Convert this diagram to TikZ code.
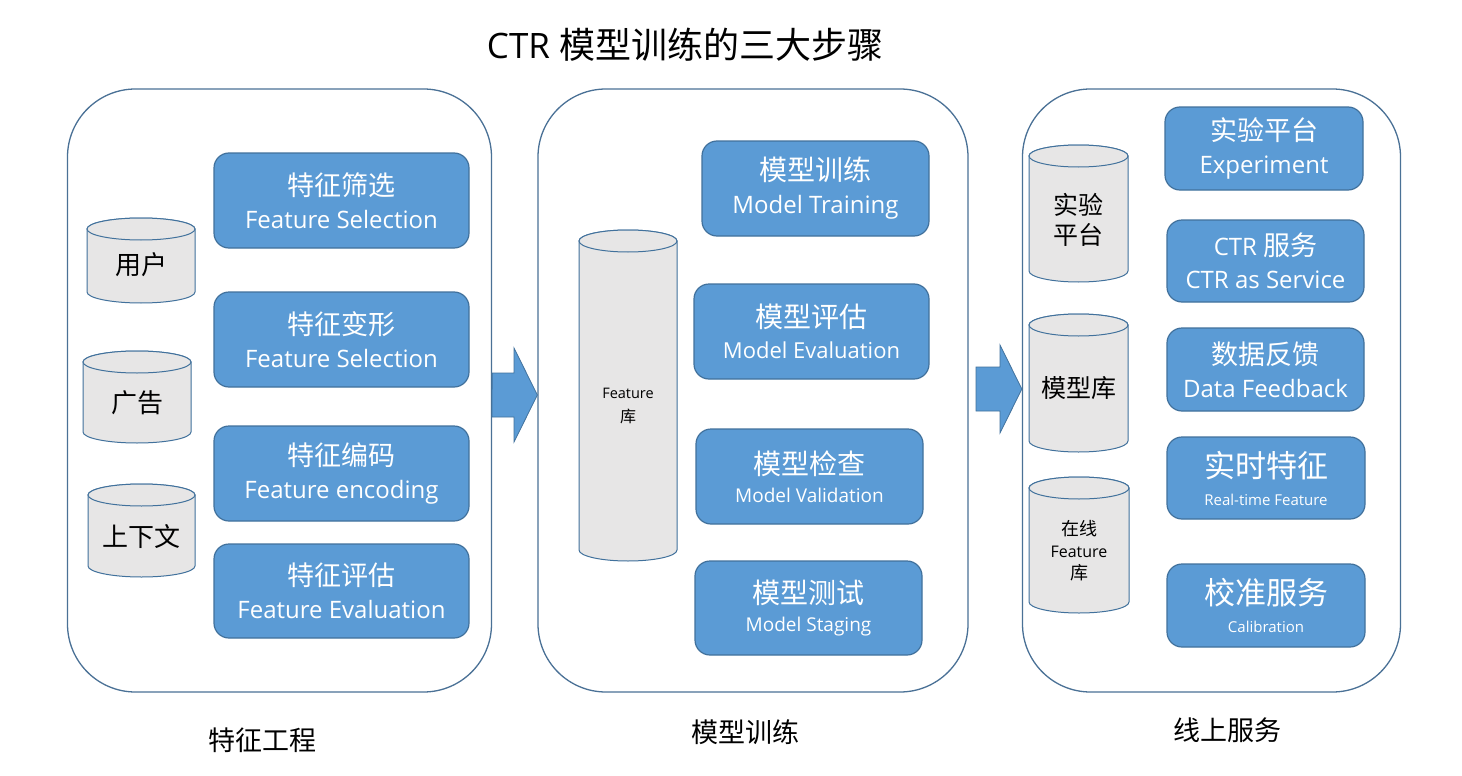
\documentclass[tikz,border=0pt]{standalone}
\usepackage{fontspec}
\setmainfont{Open Sans}
\newfontfamily\cjk{Noto Sans CJK SC}
\definecolor{boxblue}{HTML}{5B9BD5}
\definecolor{boxedge}{HTML}{41719C}
\definecolor{paneledge}{HTML}{4A7196}
\definecolor{cylfill}{HTML}{E7E6E6}
\tikzset{
  panel/.style={draw=paneledge, line width=1.3pt, rounded corners=68pt, inner sep=0pt},
  bluebox/.style={draw=boxedge, fill=boxblue, line width=1.2pt, rounded corners=15pt,
    inner sep=0pt, text=white, align=center, font=\fontsize{24}{33}\selectfont},
  cylbody/.style={draw=boxedge, fill=cylfill, line width=1pt},
  cyltext/.style={inner sep=0pt, align=center, text=black, font=\cjk\fontsize{26}{30}\selectfont},
  blockarrow/.style={draw=boxedge, fill=boxblue, line width=0.8pt, line join=miter},
  caption/.style={inner sep=0pt, font=\cjk\fontsize{27}{32}\selectfont},
}
% blue box: name, x1, y1, x2, y2, options, content
\newcommand\bbox[7]{%
  \pgfmathsetmacro\bw{#4-#2}\pgfmathsetmacro\bh{#5-#3}%
  \node[bluebox, minimum width=\bw pt, minimum height=\bh pt, #6] (#1)
    at ({(#2+#4)/2},{(#3+#5)/2}) {#7};}
% cylinder: name, x1, yt, x2, yb, text y, options, content
\newcommand\dbcyl[8]{%
  \pgfmathsetmacro\cx{(#2+#4)/2}\pgfmathsetmacro\rx{(#4-#2)/2}%
  \draw[cylbody] (#2,#3+11) -- (#2,#5-11)
     arc[start angle=180, end angle=360, x radius=\rx pt, y radius=11pt]
     -- (#4,#3+11)
     arc[start angle=0, end angle=180, x radius=\rx pt, y radius=11pt] -- cycle;
  \draw[cylbody] (\cx,#3+11) ellipse [x radius=\rx pt, y radius=11pt];
  \node[cyltext, #7] (#1) at (\cx,#6) {#8};}
\begin{document}
\begin{tikzpicture}[x=1pt,y=-1pt]
\useasboundingbox (0,0) rectangle (1462,776);
\fill[white] (0,0) rectangle (1462,776);

% title
\node[inner sep=0pt] (title) at (685,45) {\fontsize{35}{40}\selectfont CTR {\cjk\fontsize{36}{40}\selectfont 模型训练的三大步骤}};

% panels
\node[panel, minimum width=424pt, minimum height=603pt] (p1) at (279.5,390.5) {};
\node[panel, minimum width=430pt, minimum height=603pt] (p2) at (753,390.5) {};
\node[panel, minimum width=378pt, minimum height=603pt] (p3) at (1211.5,390.5) {};

% block arrows
\coordinate (a1t) at (p1.east |- 0,395);
\coordinate (a1h) at (p2.west |- 0,395);
\draw[blockarrow] (a1t) ++(0,-22) -- (514,373) -- (514,348) -- (a1h) -- (514,442) -- (514,417) -- (492,417) -- cycle;
\coordinate (a2h) at (p3.west |- 0,389);
\draw[blockarrow] (976,367) -- (1000,367) -- (1000,345) -- (a2h) -- (1000,433) -- (1000,411) -- (976,411) -- cycle;

% panel 1
\dbcyl{c1}{87}{218}{195}{303}{265}{}{用户}
\dbcyl{c2}{83}{351}{191}{443}{403}{}{广告}
\dbcyl{c3}{88}{484}{195}{577}{537}{}{上下文}
\bbox{b1}{214}{153}{469}{248}{}{{\cjk\fontsize{27}{33}\selectfont 特征筛选}\\Feature Selection}
\bbox{b2}{214}{292}{469}{387}{}{{\cjk\fontsize{27}{33}\selectfont 特征变形}\\Feature Selection}
\bbox{b3}{214}{426}{469}{521}{}{{\cjk\fontsize{27}{33}\selectfont 特征编码}\\Feature encoding}
\bbox{b4}{214}{544}{469}{638}{}{{\cjk\fontsize{27}{33}\selectfont 特征评估}\\Feature Evaluation}

% panel 2
\dbcyl{c4}{579}{230}{677}{561}{406}{font=\fontsize{14.5}{24}\selectfont}{Feature\\{\cjk\fontsize{16}{24}\selectfont 库}}
\bbox{b5}{702}{141}{929}{236}{}{{\cjk\fontsize{28}{33}\selectfont 模型训练}\\Model Training}
\bbox{b6}{694}{284}{929}{379}{font=\fontsize{22}{31}\selectfont}{{\cjk\fontsize{28}{31}\selectfont 模型评估}\\Model Evaluation}
\bbox{b7}{696}{429}{923}{524}{font=\fontsize{19}{28}\selectfont}{{\cjk\fontsize{28}{28}\selectfont 模型检查}\\Model Validation}
\bbox{b8}{695}{561}{922}{655}{font=\fontsize{19}{28}\selectfont}{{\cjk\fontsize{28}{28}\selectfont 模型测试}\\Model Staging}

% panel 3
\dbcyl{c5}{1029}{145}{1128}{282}{220}{font=\cjk\fontsize{25}{30}\selectfont}{实验\\平台}
\dbcyl{c6}{1029}{314}{1128}{452}{388}{font=\cjk\fontsize{25}{30}\selectfont}{模型库}
\dbcyl{c7}{1029}{477}{1129}{613}{551}{font=\fontsize{16}{22}\selectfont}{{\cjk\fontsize{18}{22}\selectfont 在线}\\Feature\\{\cjk\fontsize{18}{22}\selectfont 库}}
\bbox{b9}{1165}{107}{1363}{190}{}{{\cjk\fontsize{27}{33}\selectfont 实验平台}\\Experiment}
\bbox{b10}{1167}{220}{1364}{302}{}{CTR {\cjk\fontsize{27}{33}\selectfont 服务}\\CTR as Service}
\bbox{b11}{1167}{328}{1364}{411}{}{{\cjk\fontsize{27}{33}\selectfont 数据反馈}\\Data Feedback}
\bbox{b12}{1167}{437}{1365}{519}{font=\fontsize{15}{28}\selectfont}{{\cjk\fontsize{31}{28}\selectfont 实时特征}\\Real-time Feature}
\bbox{b13}{1167}{564}{1365}{647}{font=\fontsize{15}{28}\selectfont}{{\cjk\fontsize{31}{28}\selectfont 校准服务}\\Calibration}

% captions
\node[caption] (l1) at (262,740) {特征工程};
\node[caption] (l2) at (745,732) {模型训练};
\node[caption] (l3) at (1227,730) {线上服务};
\end{tikzpicture}
\end{document}
